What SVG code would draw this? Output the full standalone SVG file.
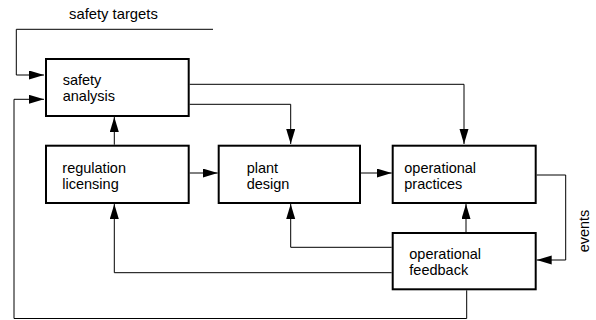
<svg xmlns="http://www.w3.org/2000/svg" width="596" height="320" viewBox="0 0 596 320">
<style>
.box{fill:#fff;stroke:#000;stroke-width:2}
.con{fill:none;stroke:#000;stroke-width:1}
text{font-family:"Liberation Sans",Arial,sans-serif;font-size:14.5px;fill:#000}
</style>
<defs>
<marker id="ah" markerUnits="userSpaceOnUse" markerWidth="16" markerHeight="10" refX="15" refY="4.5" orient="auto">
<path d="M0,0 L15,4.5 L0,9 z" fill="#000"/>
</marker>
</defs>
<rect width="596" height="320" fill="#fff"/>
<g id="connectors">
<path class="con" d="M213,29.3 H16.3 V75 H44" marker-end="url(#ah)"/>
<path class="con" d="M466.7,290.3 V318.5 H14 V99.3 H44" marker-end="url(#ah)"/>
<path class="con" d="M189.7,84.3 H464 V144" marker-end="url(#ah)"/>
<path class="con" d="M189.7,104.3 H290.7 V144" marker-end="url(#ah)"/>
<path class="con" d="M114.3,144.7 V117" marker-end="url(#ah)"/>
<path class="con" d="M189.7,173 H217.7" marker-end="url(#ah)"/>
<path class="con" d="M361,173 H391.7" marker-end="url(#ah)"/>
<path class="con" d="M536.7,175 H565.7 V260 H536.7" marker-end="url(#ah)"/>
<path class="con" d="M466,232 V204" marker-end="url(#ah)"/>
<path class="con" d="M391.7,247.3 H290.7 V204" marker-end="url(#ah)"/>
<path class="con" d="M391.7,272.7 H114.3 V204" marker-end="url(#ah)"/>
</g>
<text x="69" y="19" style="font-size:14.8px">safety targets</text>
<text transform="translate(589,231) rotate(-90)" text-anchor="middle">events</text>
<g id="safety-analysis">
<rect class="box" x="46" y="59" width="142.7" height="57"/>
<text x="62.7" y="85">safety</text>
<text x="62.7" y="101">analysis</text>
</g>
<g id="regulation-licensing">
<rect class="box" x="46" y="145.7" width="142.7" height="57.3"/>
<text x="62.3" y="173.3">regulation</text>
<text x="62.3" y="188.8">licensing</text>
</g>
<g id="plant-design">
<rect class="box" x="218.7" y="145.7" width="141.3" height="57.3"/>
<text x="246.7" y="173.3">plant</text>
<text x="246.7" y="188.8">design</text>
</g>
<g id="operational-practices">
<rect class="box" x="392.7" y="145.7" width="143" height="57.3"/>
<text x="404.3" y="173.3">operational</text>
<text x="404.3" y="188.8">practices</text>
</g>
<g id="operational-feedback">
<rect class="box" x="392.7" y="233" width="143" height="56.3"/>
<text x="409.3" y="258.5">operational</text>
<text x="409.3" y="274.5">feedback</text>
</g>
</svg>
